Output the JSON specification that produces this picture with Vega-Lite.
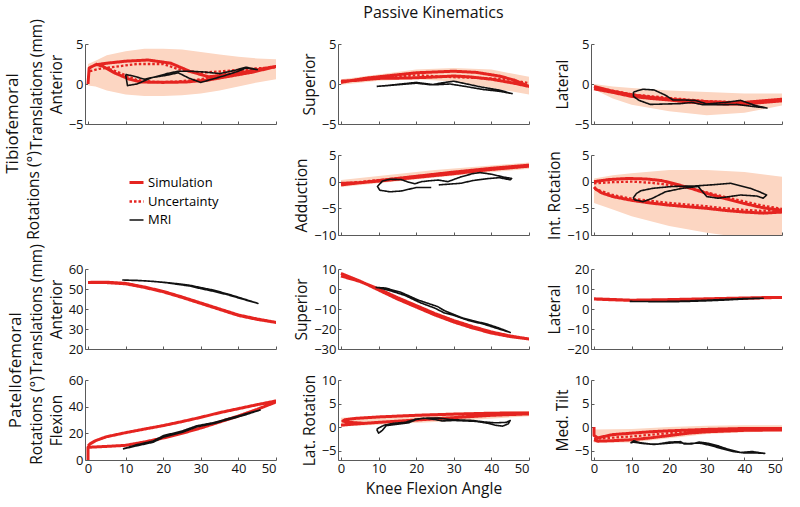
{
"$schema":"https://vega.github.io/schema/vega-lite/v6.json",
"padding":{"left":4,"top":5,"right":3,"bottom":3},
"config":{
 "view":{"stroke":null},
 "font":"Open Sans",
 "axis":{"labelFont":"Open Sans","labelFontSize":13,"titleFont":"Open Sans","titleFontSize":15.5,"titleFontWeight":"normal","titleLineHeight":20,"titlePadding":4,"domainColor":"#5a5a5a","tickColor":"#5a5a5a","labelColor":"#111111","titleColor":"#111111","grid":false,"tickSize":-3,"labelPadding":5,"labelOverlap":false},
 "title":{"font":"Open Sans","fontSize":16,"fontWeight":"normal","color":"#111111"},
 "legend":{"orient":"none","legendX":43,"legendY":130,"symbolType":"stroke","symbolSize":196,"labelFont":"Open Sans","labelFontSize":13,"rowPadding":3,"labelOffset":3}
},
"datasets":{
"band":[
{"p":"ta","x":0,"y":-0.2,"hi":2.5},{"p":"ta","x":2,"y":-0.3,"hi":2.9},{"p":"ta","x":5,"y":-0.8,"hi":3.6},{"p":"ta","x":10,"y":-1.3,"hi":4.1},{"p":"ta","x":15,"y":-1.5,"hi":4.4},{"p":"ta","x":20,"y":-1.5,"hi":4.4},{"p":"ta","x":25,"y":-1.4,"hi":4.3},{"p":"ta","x":30,"y":-1.2,"hi":4.0},{"p":"ta","x":35,"y":-0.8,"hi":3.7},{"p":"ta","x":40,"y":-0.3,"hi":3.4},{"p":"ta","x":45,"y":0.2,"hi":3.2},{"p":"ta","x":50,"y":0.6,"hi":3.1},
{"p":"ts","x":0,"y":-0.1,"hi":0.6},{"p":"ts","x":10,"y":0.4,"hi":1.2},{"p":"ts","x":20,"y":0.6,"hi":1.8},{"p":"ts","x":30,"y":0.3,"hi":2.0},{"p":"ts","x":40,"y":-0.5,"hi":1.8},{"p":"ts","x":50,"y":-1.3,"hi":0.9},
{"p":"tl","x":0,"y":-0.7,"hi":0},{"p":"tl","x":5,"y":-1.8,"hi":-0.3},{"p":"tl","x":10,"y":-2.6,"hi":-0.5},{"p":"tl","x":20,"y":-3.4,"hi":-0.8},{"p":"tl","x":30,"y":-3.9,"hi":-1.0},{"p":"tl","x":40,"y":-3.6,"hi":-1.2},{"p":"tl","x":50,"y":-2.7,"hi":-1.2},
{"p":"tad","x":0,"y":-1.0,"hi":0.3},{"p":"tad","x":25,"y":0.8,"hi":2.2},{"p":"tad","x":50,"y":2.4,"hi":3.6},
{"p":"tir","x":0,"y":-4,"hi":0.6},{"p":"tir","x":5,"y":-5.2,"hi":1.2},{"p":"tir","x":10,"y":-6.5,"hi":1.6},{"p":"tir","x":20,"y":-8.3,"hi":2.2},{"p":"tir","x":30,"y":-9.6,"hi":2.2},{"p":"tir","x":40,"y":-10.5,"hi":1.8},{"p":"tir","x":50,"y":-11,"hi":0.9},
{"p":"plr","x":0,"y":0.1,"hi":2.0},{"p":"plr","x":25,"y":1.1,"hi":3.0},{"p":"plr","x":50,"y":2.3,"hi":3.4},
{"p":"pmt","x":0,"y":-3.3,"hi":-0.5},{"p":"pmt","x":10,"y":-3.3,"hi":-0.4},{"p":"pmt","x":20,"y":-2.4,"hi":0},{"p":"pmt","x":30,"y":-1.5,"hi":0.3},{"p":"pmt","x":40,"y":-1.1,"hi":0.4},{"p":"pmt","x":50,"y":-0.9,"hi":0.4}
],
"lines":[
{"p":"ta","s":"Simulation","x":0,"y":0},{"p":"ta","s":"Simulation","x":0.3,"y":2.0},{"p":"ta","s":"Simulation","x":2,"y":2.4},{"p":"ta","s":"Simulation","x":5,"y":2.6},{"p":"ta","s":"Simulation","x":10,"y":2.85},{"p":"ta","s":"Simulation","x":16,"y":3.0},{"p":"ta","s":"Simulation","x":22,"y":2.6},{"p":"ta","s":"Simulation","x":27,"y":1.6},{"p":"ta","s":"Simulation","x":32,"y":0.9},{"p":"ta","s":"Simulation","x":38,"y":1.2},{"p":"ta","s":"Simulation","x":44,"y":1.7},{"p":"ta","s":"Simulation","x":50,"y":2.2},{"p":"ta","s":"Simulation","x":44,"y":1.5},{"p":"ta","s":"Simulation","x":38,"y":1.0},{"p":"ta","s":"Simulation","x":32,"y":0.5},{"p":"ta","s":"Simulation","x":26,"y":0.25},{"p":"ta","s":"Simulation","x":20,"y":0.2},{"p":"ta","s":"Simulation","x":14,"y":0.25},{"p":"ta","s":"Simulation","x":11,"y":0.6},{"p":"ta","s":"Simulation","x":7,"y":1.4},{"p":"ta","s":"Simulation","x":4,"y":2.2},{"p":"ta","s":"Simulation","x":2,"y":2.5},
{"p":"ta","s":"Uncertainty","x":0.5,"y":1.6},{"p":"ta","s":"Uncertainty","x":3,"y":1.9},{"p":"ta","s":"Uncertainty","x":8,"y":2.2},{"p":"ta","s":"Uncertainty","x":13,"y":2.5},{"p":"ta","s":"Uncertainty","x":20,"y":2.5},{"p":"ta","s":"Uncertainty","x":25,"y":1.7},{"p":"ta","s":"Uncertainty","x":30,"y":1.4},{"p":"ta","s":"Uncertainty","x":36,"y":1.6},{"p":"ta","s":"Uncertainty","x":43,"y":1.9},{"p":"ta","s":"Uncertainty","x":50,"y":2.1},{"p":"ta","s":"Uncertainty","x":43,"y":1.7},{"p":"ta","s":"Uncertainty","x":36,"y":1.2},{"p":"ta","s":"Uncertainty","x":30,"y":0.6},{"p":"ta","s":"Uncertainty","x":24,"y":0.3},{"p":"ta","s":"Uncertainty","x":18,"y":0.25},{"p":"ta","s":"Uncertainty","x":13,"y":0.5},{"p":"ta","s":"Uncertainty","x":9,"y":1.3},{"p":"ta","s":"Uncertainty","x":5,"y":2.0},
{"p":"ta","s":"MRI","x":10,"y":1.2},{"p":"ta","s":"MRI","x":10.5,"y":-0.2},{"p":"ta","s":"MRI","x":13,"y":0},{"p":"ta","s":"MRI","x":17,"y":0.8},{"p":"ta","s":"MRI","x":21,"y":1.1},{"p":"ta","s":"MRI","x":24,"y":1.4},{"p":"ta","s":"MRI","x":27,"y":0.7},{"p":"ta","s":"MRI","x":30,"y":0.2},{"p":"ta","s":"MRI","x":33,"y":0.6},{"p":"ta","s":"MRI","x":36,"y":1.0},{"p":"ta","s":"MRI","x":40,"y":1.6},{"p":"ta","s":"MRI","x":42,"y":2.0},{"p":"ta","s":"MRI","x":45,"y":1.8},{"p":"ta","s":"MRI","x":42,"y":2.1},{"p":"ta","s":"MRI","x":39,"y":1.7},{"p":"ta","s":"MRI","x":35,"y":1.3},{"p":"ta","s":"MRI","x":31,"y":1.5},{"p":"ta","s":"MRI","x":27,"y":1.6},{"p":"ta","s":"MRI","x":24,"y":1.6},{"p":"ta","s":"MRI","x":21,"y":1.3},{"p":"ta","s":"MRI","x":18,"y":0.9},{"p":"ta","s":"MRI","x":15,"y":0.6},{"p":"ta","s":"MRI","x":12,"y":1.0},{"p":"ta","s":"MRI","x":10,"y":1.2},
{"p":"ts","s":"Simulation","x":0,"y":0.2},{"p":"ts","s":"Simulation","x":3,"y":0.45},{"p":"ts","s":"Simulation","x":7,"y":0.75},{"p":"ts","s":"Simulation","x":12,"y":1.0},{"p":"ts","s":"Simulation","x":20,"y":1.4},{"p":"ts","s":"Simulation","x":30,"y":1.6},{"p":"ts","s":"Simulation","x":36,"y":1.45},{"p":"ts","s":"Simulation","x":42,"y":1.0},{"p":"ts","s":"Simulation","x":46,"y":0.5},{"p":"ts","s":"Simulation","x":50,"y":-0.3},{"p":"ts","s":"Simulation","x":46,"y":0.1},{"p":"ts","s":"Simulation","x":40,"y":0.6},{"p":"ts","s":"Simulation","x":34,"y":0.9},{"p":"ts","s":"Simulation","x":30,"y":1.0},{"p":"ts","s":"Simulation","x":24,"y":0.85},{"p":"ts","s":"Simulation","x":18,"y":0.75},{"p":"ts","s":"Simulation","x":10,"y":0.7},{"p":"ts","s":"Simulation","x":4,"y":0.45},{"p":"ts","s":"Simulation","x":0,"y":0.35},
{"p":"ts","s":"Uncertainty","x":0,"y":0.3},{"p":"ts","s":"Uncertainty","x":10,"y":0.75},{"p":"ts","s":"Uncertainty","x":20,"y":1.1},{"p":"ts","s":"Uncertainty","x":30,"y":0.85},{"p":"ts","s":"Uncertainty","x":37,"y":0.75},{"p":"ts","s":"Uncertainty","x":44,"y":0.6},{"p":"ts","s":"Uncertainty","x":50,"y":0.1},
{"p":"ts","s":"MRI","x":9.5,"y":-0.3},{"p":"ts","s":"MRI","x":12,"y":-0.2},{"p":"ts","s":"MRI","x":16,"y":0},{"p":"ts","s":"MRI","x":20,"y":0.2},{"p":"ts","s":"MRI","x":25,"y":-0.1},{"p":"ts","s":"MRI","x":29,"y":0},{"p":"ts","s":"MRI","x":33,"y":-0.3},{"p":"ts","s":"MRI","x":38,"y":-0.7},{"p":"ts","s":"MRI","x":42,"y":-0.9},{"p":"ts","s":"MRI","x":45.5,"y":-1.2},{"p":"ts","s":"MRI","x":42,"y":-0.75},{"p":"ts","s":"MRI","x":37,"y":-0.35},{"p":"ts","s":"MRI","x":33,"y":0.05},{"p":"ts","s":"MRI","x":30,"y":0.35},{"p":"ts","s":"MRI","x":27,"y":0.15},{"p":"ts","s":"MRI","x":24,"y":-0.1},{"p":"ts","s":"MRI","x":20,"y":0.1},{"p":"ts","s":"MRI","x":15,"y":-0.1},{"p":"ts","s":"MRI","x":11,"y":-0.25},{"p":"ts","s":"MRI","x":9.5,"y":-0.3},
{"p":"tl","s":"Simulation","x":0,"y":-0.3},{"p":"tl","s":"Simulation","x":5,"y":-0.9},{"p":"tl","s":"Simulation","x":10,"y":-1.35},{"p":"tl","s":"Simulation","x":15,"y":-1.65},{"p":"tl","s":"Simulation","x":20,"y":-1.9},{"p":"tl","s":"Simulation","x":25,"y":-2.05},{"p":"tl","s":"Simulation","x":30,"y":-2.2},{"p":"tl","s":"Simulation","x":35,"y":-2.3},{"p":"tl","s":"Simulation","x":40,"y":-2.3},{"p":"tl","s":"Simulation","x":45,"y":-2.1},{"p":"tl","s":"Simulation","x":50,"y":-1.9},{"p":"tl","s":"Simulation","x":50,"y":-2.1},{"p":"tl","s":"Simulation","x":45,"y":-2.3},{"p":"tl","s":"Simulation","x":40,"y":-2.5},{"p":"tl","s":"Simulation","x":35,"y":-2.5},{"p":"tl","s":"Simulation","x":30,"y":-2.4},{"p":"tl","s":"Simulation","x":25,"y":-2.25},{"p":"tl","s":"Simulation","x":20,"y":-2.0},{"p":"tl","s":"Simulation","x":15,"y":-1.8},{"p":"tl","s":"Simulation","x":10,"y":-1.55},{"p":"tl","s":"Simulation","x":5,"y":-1.05},{"p":"tl","s":"Simulation","x":0,"y":-0.6},
{"p":"tl","s":"Uncertainty","x":0,"y":-0.4},{"p":"tl","s":"Uncertainty","x":10,"y":-1.3},{"p":"tl","s":"Uncertainty","x":20,"y":-1.75},{"p":"tl","s":"Uncertainty","x":30,"y":-2.15},{"p":"tl","s":"Uncertainty","x":40,"y":-2.3},{"p":"tl","s":"Uncertainty","x":50,"y":-2.0},
{"p":"tl","s":"MRI","x":10.5,"y":-1.0},{"p":"tl","s":"MRI","x":13,"y":-0.65},{"p":"tl","s":"MRI","x":16,"y":-0.75},{"p":"tl","s":"MRI","x":19,"y":-1.4},{"p":"tl","s":"MRI","x":21,"y":-2.0},{"p":"tl","s":"MRI","x":24,"y":-2.0},{"p":"tl","s":"MRI","x":27,"y":-2.05},{"p":"tl","s":"MRI","x":30,"y":-2.5},{"p":"tl","s":"MRI","x":35,"y":-2.3},{"p":"tl","s":"MRI","x":39,"y":-2.05},{"p":"tl","s":"MRI","x":43,"y":-2.7},{"p":"tl","s":"MRI","x":46,"y":-3.0},{"p":"tl","s":"MRI","x":43,"y":-2.85},{"p":"tl","s":"MRI","x":38,"y":-2.55},{"p":"tl","s":"MRI","x":33,"y":-2.6},{"p":"tl","s":"MRI","x":29,"y":-2.6},{"p":"tl","s":"MRI","x":26,"y":-2.3},{"p":"tl","s":"MRI","x":23,"y":-2.45},{"p":"tl","s":"MRI","x":19,"y":-2.5},{"p":"tl","s":"MRI","x":15,"y":-2.55},{"p":"tl","s":"MRI","x":12,"y":-2.05},{"p":"tl","s":"MRI","x":10.5,"y":-1.55},{"p":"tl","s":"MRI","x":10.5,"y":-1.0},
{"p":"tad","s":"Simulation","x":0,"y":-0.6},{"p":"tad","s":"Simulation","x":5,"y":-0.2},{"p":"tad","s":"Simulation","x":10,"y":0.2},{"p":"tad","s":"Simulation","x":20,"y":1.0},{"p":"tad","s":"Simulation","x":30,"y":1.8},{"p":"tad","s":"Simulation","x":40,"y":2.5},{"p":"tad","s":"Simulation","x":50,"y":3.1},{"p":"tad","s":"Simulation","x":50,"y":2.9},{"p":"tad","s":"Simulation","x":40,"y":2.3},{"p":"tad","s":"Simulation","x":30,"y":1.5},{"p":"tad","s":"Simulation","x":20,"y":0.8},{"p":"tad","s":"Simulation","x":10,"y":0.1},{"p":"tad","s":"Simulation","x":5,"y":-0.2},{"p":"tad","s":"Simulation","x":0,"y":-0.3},
{"p":"tad","s":"Uncertainty","x":0,"y":-0.4},{"p":"tad","s":"Uncertainty","x":10,"y":0.3},{"p":"tad","s":"Uncertainty","x":20,"y":1.0},{"p":"tad","s":"Uncertainty","x":30,"y":1.7},{"p":"tad","s":"Uncertainty","x":40,"y":2.3},{"p":"tad","s":"Uncertainty","x":50,"y":2.9},
{"p":"tad","s":"MRI","x":24,"y":-1.1},{"p":"tad","s":"MRI","x":20,"y":-1.1},{"p":"tad","s":"MRI","x":16,"y":-1.75},{"p":"tad","s":"MRI","x":13,"y":-1.9},{"p":"tad","s":"MRI","x":10.3,"y":-1.6},{"p":"tad","s":"MRI","x":9.7,"y":-0.9},{"p":"tad","s":"MRI","x":11,"y":0.1},{"p":"tad","s":"MRI","x":13,"y":0.45},{"p":"tad","s":"MRI","x":16,"y":0.4},{"p":"tad","s":"MRI","x":18,"y":-0.1},{"p":"tad","s":"MRI","x":19.6,"y":-0.4},{"p":"tad","s":"MRI","x":21.4,"y":0},{"p":"tad","s":"MRI","x":24,"y":0.2},{"p":"tad","s":"MRI","x":26,"y":0.3},{"p":"tad","s":"MRI","x":28.4,"y":0},{"p":"tad","s":"MRI","x":31.9,"y":0.9},{"p":"tad","s":"MRI","x":35,"y":1.5},{"p":"tad","s":"MRI","x":37,"y":1.7},{"p":"tad","s":"MRI","x":40,"y":1.4},{"p":"tad","s":"MRI","x":43,"y":0.9},{"p":"tad","s":"MRI","x":45.4,"y":0.6},{"p":"tad","s":"MRI","x":45,"y":0.35},{"p":"tad","s":"MRI","x":42,"y":0.75},{"p":"tad","s":"MRI","x":38.8,"y":0.55},{"p":"tad","s":"MRI","x":35,"y":0.2},{"p":"tad","s":"MRI","x":31.9,"y":-0.3},{"p":"tad","s":"MRI","x":28,"y":-0.5},{"p":"tad","s":"MRI","x":26,"y":-0.6},
{"p":"tir","s":"Simulation","x":0,"y":0},{"p":"tir","s":"Simulation","x":4,"y":0.4},{"p":"tir","s":"Simulation","x":9,"y":0.6},{"p":"tir","s":"Simulation","x":14,"y":0.5},{"p":"tir","s":"Simulation","x":18,"y":0.2},{"p":"tir","s":"Simulation","x":22,"y":-0.5},{"p":"tir","s":"Simulation","x":26,"y":-1.3},{"p":"tir","s":"Simulation","x":30,"y":-2.2},{"p":"tir","s":"Simulation","x":35,"y":-3.2},{"p":"tir","s":"Simulation","x":40,"y":-4.1},{"p":"tir","s":"Simulation","x":45,"y":-4.9},{"p":"tir","s":"Simulation","x":50,"y":-5.4},{"p":"tir","s":"Simulation","x":50,"y":-5.7},{"p":"tir","s":"Simulation","x":45,"y":-5.9},{"p":"tir","s":"Simulation","x":40,"y":-5.7},{"p":"tir","s":"Simulation","x":35,"y":-5.4},{"p":"tir","s":"Simulation","x":30,"y":-5.0},{"p":"tir","s":"Simulation","x":25,"y":-4.7},{"p":"tir","s":"Simulation","x":20,"y":-4.4},{"p":"tir","s":"Simulation","x":15,"y":-4.0},{"p":"tir","s":"Simulation","x":10,"y":-3.5},{"p":"tir","s":"Simulation","x":5,"y":-2.8},{"p":"tir","s":"Simulation","x":2,"y":-2.1},{"p":"tir","s":"Simulation","x":0.5,"y":-1.4},{"p":"tir","s":"Simulation","x":0,"y":-1.0},
{"p":"tir","s":"Uncertainty","x":0,"y":-0.3},{"p":"tir","s":"Uncertainty","x":5,"y":-0.1},{"p":"tir","s":"Uncertainty","x":10,"y":0},{"p":"tir","s":"Uncertainty","x":15,"y":-0.2},{"p":"tir","s":"Uncertainty","x":20,"y":-0.6},{"p":"tir","s":"Uncertainty","x":25,"y":-1.1},{"p":"tir","s":"Uncertainty","x":30,"y":-2.0},{"p":"tir","s":"Uncertainty","x":35,"y":-2.9},{"p":"tir","s":"Uncertainty","x":40,"y":-3.7},{"p":"tir","s":"Uncertainty","x":45,"y":-4.5},{"p":"tir","s":"Uncertainty","x":50,"y":-5.1},{"p":"tir","s":"Uncertainty","x":45,"y":-5.5},{"p":"tir","s":"Uncertainty","x":40,"y":-5.3},{"p":"tir","s":"Uncertainty","x":35,"y":-5.0},{"p":"tir","s":"Uncertainty","x":30,"y":-4.6},{"p":"tir","s":"Uncertainty","x":25,"y":-4.3},{"p":"tir","s":"Uncertainty","x":20,"y":-4.0},{"p":"tir","s":"Uncertainty","x":15,"y":-3.6},{"p":"tir","s":"Uncertainty","x":10,"y":-3.2},{"p":"tir","s":"Uncertainty","x":5,"y":-2.5},{"p":"tir","s":"Uncertainty","x":0,"y":-1.3},
{"p":"tir","s":"MRI","x":10.4,"y":-3.1},{"p":"tir","s":"MRI","x":11.3,"y":-2.2},{"p":"tir","s":"MRI","x":12.5,"y":-1.7},{"p":"tir","s":"MRI","x":15.6,"y":-1.25},{"p":"tir","s":"MRI","x":20.8,"y":-0.9},{"p":"tir","s":"MRI","x":26.9,"y":-0.8},{"p":"tir","s":"MRI","x":31.2,"y":-0.6},{"p":"tir","s":"MRI","x":36.4,"y":-0.3},{"p":"tir","s":"MRI","x":41.6,"y":-1.25},{"p":"tir","s":"MRI","x":44,"y":-1.9},{"p":"tir","s":"MRI","x":45.9,"y":-2.5},{"p":"tir","s":"MRI","x":45,"y":-3.1},{"p":"tir","s":"MRI","x":43.3,"y":-2.7},{"p":"tir","s":"MRI","x":39,"y":-2.5},{"p":"tir","s":"MRI","x":33,"y":-3.1},{"p":"tir","s":"MRI","x":30,"y":-2.8},{"p":"tir","s":"MRI","x":27.7,"y":-0.9},{"p":"tir","s":"MRI","x":23.4,"y":-1.25},{"p":"tir","s":"MRI","x":19,"y":-1.9},{"p":"tir","s":"MRI","x":15.6,"y":-3.1},{"p":"tir","s":"MRI","x":13,"y":-3.75},{"p":"tir","s":"MRI","x":10.8,"y":-3.4},{"p":"tir","s":"MRI","x":10.4,"y":-3.1},
{"p":"pa","s":"Simulation","x":0,"y":53.3},{"p":"pa","s":"Simulation","x":5,"y":53.4},{"p":"pa","s":"Simulation","x":10,"y":52.8},{"p":"pa","s":"Simulation","x":15,"y":51},{"p":"pa","s":"Simulation","x":20,"y":48.8},{"p":"pa","s":"Simulation","x":25,"y":46},{"p":"pa","s":"Simulation","x":30,"y":43},{"p":"pa","s":"Simulation","x":35,"y":40},{"p":"pa","s":"Simulation","x":40,"y":37},{"p":"pa","s":"Simulation","x":45,"y":35},{"p":"pa","s":"Simulation","x":50,"y":33.3},{"p":"pa","s":"Simulation","x":45,"y":34.8},{"p":"pa","s":"Simulation","x":40,"y":36.8},{"p":"pa","s":"Simulation","x":35,"y":39.8},{"p":"pa","s":"Simulation","x":30,"y":42.8},{"p":"pa","s":"Simulation","x":25,"y":45.8},{"p":"pa","s":"Simulation","x":20,"y":48.6},{"p":"pa","s":"Simulation","x":15,"y":50.8},{"p":"pa","s":"Simulation","x":10,"y":52.6},{"p":"pa","s":"Simulation","x":5,"y":53.2},{"p":"pa","s":"Simulation","x":0,"y":53.2},
{"p":"pa","s":"MRI","x":9.1,"y":54.5},{"p":"pa","s":"MRI","x":13,"y":54.3},{"p":"pa","s":"MRI","x":17.4,"y":53.8},{"p":"pa","s":"MRI","x":21,"y":53.1},{"p":"pa","s":"MRI","x":24,"y":52.3},{"p":"pa","s":"MRI","x":27,"y":51.5},{"p":"pa","s":"MRI","x":30,"y":50.2},{"p":"pa","s":"MRI","x":33,"y":49},{"p":"pa","s":"MRI","x":37,"y":47.2},{"p":"pa","s":"MRI","x":41,"y":45},{"p":"pa","s":"MRI","x":45.2,"y":42.8},{"p":"pa","s":"MRI","x":41,"y":45.3},{"p":"pa","s":"MRI","x":37,"y":47.6},{"p":"pa","s":"MRI","x":33,"y":49.6},{"p":"pa","s":"MRI","x":30,"y":50.7},{"p":"pa","s":"MRI","x":27,"y":51.9},{"p":"pa","s":"MRI","x":24,"y":52.6},{"p":"pa","s":"MRI","x":20,"y":53.4},{"p":"pa","s":"MRI","x":15,"y":54.1},{"p":"pa","s":"MRI","x":9.1,"y":54.5},
{"p":"ps","s":"Simulation","x":0,"y":7.8},{"p":"ps","s":"Simulation","x":5,"y":4},{"p":"ps","s":"Simulation","x":10,"y":-0.5},{"p":"ps","s":"Simulation","x":15,"y":-5},{"p":"ps","s":"Simulation","x":20,"y":-9},{"p":"ps","s":"Simulation","x":25,"y":-13},{"p":"ps","s":"Simulation","x":30,"y":-16.5},{"p":"ps","s":"Simulation","x":35,"y":-19.5},{"p":"ps","s":"Simulation","x":40,"y":-22},{"p":"ps","s":"Simulation","x":45,"y":-23.8},{"p":"ps","s":"Simulation","x":50,"y":-25},{"p":"ps","s":"Simulation","x":45,"y":-23.5},{"p":"ps","s":"Simulation","x":40,"y":-21.5},{"p":"ps","s":"Simulation","x":35,"y":-18.8},{"p":"ps","s":"Simulation","x":30,"y":-15.8},{"p":"ps","s":"Simulation","x":25,"y":-12.3},{"p":"ps","s":"Simulation","x":20,"y":-8.3},{"p":"ps","s":"Simulation","x":15,"y":-4.3},{"p":"ps","s":"Simulation","x":10,"y":0},{"p":"ps","s":"Simulation","x":5,"y":3.8},{"p":"ps","s":"Simulation","x":0,"y":6.5},
{"p":"ps","s":"MRI","x":9.2,"y":0.8},{"p":"ps","s":"MRI","x":11.8,"y":0.5},{"p":"ps","s":"MRI","x":16,"y":-1.7},{"p":"ps","s":"MRI","x":20.5,"y":-5.5},{"p":"ps","s":"MRI","x":25.7,"y":-8.8},{"p":"ps","s":"MRI","x":27.5,"y":-10.8},{"p":"ps","s":"MRI","x":31.9,"y":-14.2},{"p":"ps","s":"MRI","x":35,"y":-15.8},{"p":"ps","s":"MRI","x":38.8,"y":-17.5},{"p":"ps","s":"MRI","x":42,"y":-19.5},{"p":"ps","s":"MRI","x":45,"y":-21.7},{"p":"ps","s":"MRI","x":42,"y":-20},{"p":"ps","s":"MRI","x":38,"y":-17.6},{"p":"ps","s":"MRI","x":34,"y":-15.8},{"p":"ps","s":"MRI","x":30,"y":-13.2},{"p":"ps","s":"MRI","x":27.5,"y":-12.0},{"p":"ps","s":"MRI","x":25,"y":-9.6},{"p":"ps","s":"MRI","x":21,"y":-6.8},{"p":"ps","s":"MRI","x":17,"y":-3.2},{"p":"ps","s":"MRI","x":13,"y":-0.8},{"p":"ps","s":"MRI","x":10,"y":0.6},{"p":"ps","s":"MRI","x":9.2,"y":0.8},
{"p":"pl","s":"Simulation","x":0,"y":5},{"p":"pl","s":"Simulation","x":5,"y":4.6},{"p":"pl","s":"Simulation","x":10,"y":4.3},{"p":"pl","s":"Simulation","x":15,"y":4.4},{"p":"pl","s":"Simulation","x":20,"y":4.5},{"p":"pl","s":"Simulation","x":25,"y":4.7},{"p":"pl","s":"Simulation","x":30,"y":5},{"p":"pl","s":"Simulation","x":35,"y":5.2},{"p":"pl","s":"Simulation","x":40,"y":5.4},{"p":"pl","s":"Simulation","x":45,"y":5.6},{"p":"pl","s":"Simulation","x":50,"y":5.8},{"p":"pl","s":"Simulation","x":45,"y":5.7},{"p":"pl","s":"Simulation","x":40,"y":5.5},{"p":"pl","s":"Simulation","x":30,"y":5.1},{"p":"pl","s":"Simulation","x":20,"y":4.7},{"p":"pl","s":"Simulation","x":10,"y":4.4},{"p":"pl","s":"Simulation","x":0,"y":5.1},
{"p":"pl","s":"MRI","x":9.5,"y":3.8},{"p":"pl","s":"MRI","x":15,"y":3.7},{"p":"pl","s":"MRI","x":20,"y":3.8},{"p":"pl","s":"MRI","x":25,"y":4.0},{"p":"pl","s":"MRI","x":30,"y":4.4},{"p":"pl","s":"MRI","x":35,"y":4.8},{"p":"pl","s":"MRI","x":40,"y":5.2},{"p":"pl","s":"MRI","x":45,"y":5.4},{"p":"pl","s":"MRI","x":40,"y":5.0},{"p":"pl","s":"MRI","x":35,"y":4.5},{"p":"pl","s":"MRI","x":30,"y":4.1},{"p":"pl","s":"MRI","x":25,"y":3.8},{"p":"pl","s":"MRI","x":20,"y":3.6},{"p":"pl","s":"MRI","x":15,"y":3.7},{"p":"pl","s":"MRI","x":9.5,"y":3.8},
{"p":"pf","s":"Simulation","x":0,"y":0},{"p":"pf","s":"Simulation","x":0,"y":9.5},{"p":"pf","s":"Simulation","x":5,"y":10.2},{"p":"pf","s":"Simulation","x":10,"y":11},{"p":"pf","s":"Simulation","x":15,"y":13.5},{"p":"pf","s":"Simulation","x":20,"y":16.5},{"p":"pf","s":"Simulation","x":25,"y":20},{"p":"pf","s":"Simulation","x":30,"y":24},{"p":"pf","s":"Simulation","x":35,"y":28.5},{"p":"pf","s":"Simulation","x":40,"y":33},{"p":"pf","s":"Simulation","x":45,"y":38},{"p":"pf","s":"Simulation","x":50,"y":43.5},{"p":"pf","s":"Simulation","x":50,"y":44.3},{"p":"pf","s":"Simulation","x":45,"y":41.5},{"p":"pf","s":"Simulation","x":40,"y":38.5},{"p":"pf","s":"Simulation","x":35,"y":35.5},{"p":"pf","s":"Simulation","x":30,"y":32},{"p":"pf","s":"Simulation","x":25,"y":28.8},{"p":"pf","s":"Simulation","x":20,"y":25.8},{"p":"pf","s":"Simulation","x":15,"y":23.2},{"p":"pf","s":"Simulation","x":10,"y":20.5},{"p":"pf","s":"Simulation","x":5,"y":17.5},{"p":"pf","s":"Simulation","x":2,"y":14.5},{"p":"pf","s":"Simulation","x":0.5,"y":12},{"p":"pf","s":"Simulation","x":0,"y":10.5},
{"p":"pf","s":"MRI","x":9.3,"y":8.3},{"p":"pf","s":"MRI","x":12.9,"y":10.6},{"p":"pf","s":"MRI","x":17.3,"y":13.3},{"p":"pf","s":"MRI","x":20,"y":17},{"p":"pf","s":"MRI","x":25.3,"y":21},{"p":"pf","s":"MRI","x":28.9,"y":24.8},{"p":"pf","s":"MRI","x":33.3,"y":27.3},{"p":"pf","s":"MRI","x":37.8,"y":30.6},{"p":"pf","s":"MRI","x":42.2,"y":34.2},{"p":"pf","s":"MRI","x":45.8,"y":37.5},{"p":"pf","s":"MRI","x":42.2,"y":34.8},{"p":"pf","s":"MRI","x":37.8,"y":31.4},{"p":"pf","s":"MRI","x":33.3,"y":28},{"p":"pf","s":"MRI","x":28.9,"y":25.6},{"p":"pf","s":"MRI","x":25.3,"y":22},{"p":"pf","s":"MRI","x":20,"y":18.2},{"p":"pf","s":"MRI","x":17.3,"y":14.2},{"p":"pf","s":"MRI","x":12.9,"y":11.4},{"p":"pf","s":"MRI","x":9.3,"y":8.3},
{"p":"plr","s":"Simulation","x":0,"y":0.4},{"p":"plr","s":"Simulation","x":3,"y":0.6},{"p":"plr","s":"Simulation","x":10,"y":1.0},{"p":"plr","s":"Simulation","x":20,"y":1.5},{"p":"plr","s":"Simulation","x":30,"y":2.0},{"p":"plr","s":"Simulation","x":40,"y":2.5},{"p":"plr","s":"Simulation","x":50,"y":2.8},{"p":"plr","s":"Simulation","x":50,"y":3.0},{"p":"plr","s":"Simulation","x":40,"y":2.95},{"p":"plr","s":"Simulation","x":30,"y":2.75},{"p":"plr","s":"Simulation","x":20,"y":2.5},{"p":"plr","s":"Simulation","x":10,"y":2.15},{"p":"plr","s":"Simulation","x":4,"y":1.85},{"p":"plr","s":"Simulation","x":1,"y":1.55},{"p":"plr","s":"Simulation","x":0.5,"y":1.3},{"p":"plr","s":"Simulation","x":2,"y":1.0},{"p":"plr","s":"Simulation","x":6,"y":0.8},
{"p":"plr","s":"MRI","x":9.5,"y":-0.5},{"p":"plr","s":"MRI","x":10,"y":-1.3},{"p":"plr","s":"MRI","x":11,"y":-0.7},{"p":"plr","s":"MRI","x":12,"y":0.3},{"p":"plr","s":"MRI","x":15,"y":0.6},{"p":"plr","s":"MRI","x":18,"y":0.9},{"p":"plr","s":"MRI","x":20,"y":1.6},{"p":"plr","s":"MRI","x":22,"y":1.9},{"p":"plr","s":"MRI","x":25,"y":1.6},{"p":"plr","s":"MRI","x":27,"y":1.3},{"p":"plr","s":"MRI","x":30,"y":1.4},{"p":"plr","s":"MRI","x":33,"y":1.3},{"p":"plr","s":"MRI","x":36,"y":1.2},{"p":"plr","s":"MRI","x":39,"y":0.8},{"p":"plr","s":"MRI","x":41,"y":0.4},{"p":"plr","s":"MRI","x":43,"y":0.2},{"p":"plr","s":"MRI","x":44.5,"y":0.7},{"p":"plr","s":"MRI","x":45,"y":1.4},{"p":"plr","s":"MRI","x":44,"y":1.0},{"p":"plr","s":"MRI","x":41,"y":0.9},{"p":"plr","s":"MRI","x":38,"y":1.1},{"p":"plr","s":"MRI","x":35,"y":1.4},{"p":"plr","s":"MRI","x":32,"y":1.5},{"p":"plr","s":"MRI","x":29,"y":1.6},{"p":"plr","s":"MRI","x":26,"y":1.9},{"p":"plr","s":"MRI","x":23,"y":1.9},{"p":"plr","s":"MRI","x":20,"y":1.7},{"p":"plr","s":"MRI","x":17,"y":1.0},{"p":"plr","s":"MRI","x":14,"y":0.8},{"p":"plr","s":"MRI","x":11.5,"y":0.4},{"p":"plr","s":"MRI","x":10,"y":-0.2},{"p":"plr","s":"MRI","x":9.5,"y":-0.5},
{"p":"pmt","s":"Simulation","x":0,"y":0},{"p":"pmt","s":"Simulation","x":0,"y":-1.8},{"p":"pmt","s":"Simulation","x":1,"y":-2.3},{"p":"pmt","s":"Simulation","x":5,"y":-1.6},{"p":"pmt","s":"Simulation","x":10,"y":-1.3},{"p":"pmt","s":"Simulation","x":15,"y":-1.0},{"p":"pmt","s":"Simulation","x":20,"y":-0.8},{"p":"pmt","s":"Simulation","x":30,"y":-0.5},{"p":"pmt","s":"Simulation","x":40,"y":-0.3},{"p":"pmt","s":"Simulation","x":50,"y":-0.3},{"p":"pmt","s":"Simulation","x":50,"y":-0.6},{"p":"pmt","s":"Simulation","x":40,"y":-0.7},{"p":"pmt","s":"Simulation","x":30,"y":-1.0},{"p":"pmt","s":"Simulation","x":25,"y":-1.3},{"p":"pmt","s":"Simulation","x":20,"y":-1.8},{"p":"pmt","s":"Simulation","x":15,"y":-2.3},{"p":"pmt","s":"Simulation","x":10,"y":-2.7},{"p":"pmt","s":"Simulation","x":5,"y":-2.9},{"p":"pmt","s":"Simulation","x":1,"y":-3.0},{"p":"pmt","s":"Simulation","x":0,"y":-2.7},
{"p":"pmt","s":"Uncertainty","x":0,"y":-2.5},{"p":"pmt","s":"Uncertainty","x":10,"y":-2.0},{"p":"pmt","s":"Uncertainty","x":20,"y":-1.3},{"p":"pmt","s":"Uncertainty","x":30,"y":-0.8},{"p":"pmt","s":"Uncertainty","x":40,"y":-0.5},{"p":"pmt","s":"Uncertainty","x":50,"y":-0.4},
{"p":"pmt","s":"MRI","x":9.7,"y":-3.4},{"p":"pmt","s":"MRI","x":10.6,"y":-2.9},{"p":"pmt","s":"MRI","x":12,"y":-3.3},{"p":"pmt","s":"MRI","x":15,"y":-3.6},{"p":"pmt","s":"MRI","x":17,"y":-3.6},{"p":"pmt","s":"MRI","x":20,"y":-3.2},{"p":"pmt","s":"MRI","x":23,"y":-3.1},{"p":"pmt","s":"MRI","x":24,"y":-3.6},{"p":"pmt","s":"MRI","x":26,"y":-3.6},{"p":"pmt","s":"MRI","x":28,"y":-3.2},{"p":"pmt","s":"MRI","x":30,"y":-3.4},{"p":"pmt","s":"MRI","x":33,"y":-4.0},{"p":"pmt","s":"MRI","x":36,"y":-4.8},{"p":"pmt","s":"MRI","x":39,"y":-5.4},{"p":"pmt","s":"MRI","x":42,"y":-5.2},{"p":"pmt","s":"MRI","x":45.4,"y":-5.6},{"p":"pmt","s":"MRI","x":43,"y":-5.5},{"p":"pmt","s":"MRI","x":40,"y":-5.5},{"p":"pmt","s":"MRI","x":37,"y":-5.2},{"p":"pmt","s":"MRI","x":34,"y":-4.6},{"p":"pmt","s":"MRI","x":31,"y":-3.9},{"p":"pmt","s":"MRI","x":28,"y":-3.4},{"p":"pmt","s":"MRI","x":25,"y":-3.5},{"p":"pmt","s":"MRI","x":22,"y":-3.3},{"p":"pmt","s":"MRI","x":19,"y":-3.5},{"p":"pmt","s":"MRI","x":16,"y":-3.7},{"p":"pmt","s":"MRI","x":13,"y":-3.5},{"p":"pmt","s":"MRI","x":10.5,"y":-3.2},{"p":"pmt","s":"MRI","x":9.7,"y":-3.4}
]
},
"vconcat":[
{"title":{"text":"Tibiofemoral","orient":"left","align":"center","anchor":"middle","fontSize":17,"offset":4},
 "columns":3,"spacing":{"row":31,"column":62},"bounds":"flush",
 "concat":[
  {"width":191,"height":80,
   "encoding":{"x":{"field":"x","type":"quantitative","scale":{"domain":[-0.8,50]},"axis":{"labels":false,"title":null,"values":[0,10,20,30,40,50]}},
     "y":{"field":"y","type":"quantitative","scale":{"domain":[-5,5]},"axis":{"values":[-5,0,5],"title":["Translations (mm)","Anterior"]}}},
   "layer":[
   {"data":{"name":"band"},"transform":[{"filter":"datum.p=='ta'"}],"mark":{"type":"area","color":"#fcd6c2","clip":true},"encoding":{"y2":{"field":"hi"}}},
   {"data":{"name":"lines"},"transform":[{"filter":"datum.p=='ta'"}],"mark":{"type":"line","clip":true,"strokeJoin":"round"},
    "encoding":{"order":{"value":null},
     "color":{"field":"s","type":"nominal","title":null,"scale":{"domain":["Simulation","Uncertainty","MRI"],"range":["#e52420","#e52420","#111111"]}},
     "strokeDash":{"field":"s","type":"nominal","title":null,"scale":{"domain":["Simulation","Uncertainty","MRI"],"range":[[1,0],[2.5,2],[1,0]]}},
     "strokeWidth":{"field":"s","type":"nominal","title":null,"scale":{"domain":["Simulation","Uncertainty","MRI"],"range":[3,1.6,1.2]}}}}
  ]},
  {"width":191,"height":80,"title":{"text":"Passive Kinematics","offset":17},
   "encoding":{"x":{"field":"x","type":"quantitative","scale":{"domain":[-0.8,50]},"axis":{"labels":false,"title":null,"values":[0,10,20,30,40,50]}},
     "y":{"field":"y","type":"quantitative","scale":{"domain":[-5,5]},"axis":{"values":[-5,0,5],"title":"Superior"}}},
   "layer":[
   {"data":{"name":"band"},"transform":[{"filter":"datum.p=='ts'"}],"mark":{"type":"area","color":"#fcd6c2","clip":true},"encoding":{"y2":{"field":"hi"}}},
   {"data":{"name":"lines"},"transform":[{"filter":"datum.p=='ts'"}],"mark":{"type":"line","clip":true,"strokeJoin":"round"},
    "encoding":{"order":{"value":null},
     "color":{"field":"s","type":"nominal","title":null,"scale":{"domain":["Simulation","Uncertainty","MRI"],"range":["#e52420","#e52420","#111111"]}},
     "strokeDash":{"field":"s","type":"nominal","title":null,"scale":{"domain":["Simulation","Uncertainty","MRI"],"range":[[1,0],[2.5,2],[1,0]]}},
     "strokeWidth":{"field":"s","type":"nominal","title":null,"scale":{"domain":["Simulation","Uncertainty","MRI"],"range":[3,1.6,1.2]}}}}
  ]},
  {"width":191,"height":80,
   "encoding":{"x":{"field":"x","type":"quantitative","scale":{"domain":[-0.8,50]},"axis":{"labels":false,"title":null,"values":[0,10,20,30,40,50]}},
     "y":{"field":"y","type":"quantitative","scale":{"domain":[-5,5]},"axis":{"values":[-5,0,5],"title":"Lateral"}}},
   "layer":[
   {"data":{"name":"band"},"transform":[{"filter":"datum.p=='tl'"}],"mark":{"type":"area","color":"#fcd6c2","clip":true},"encoding":{"y2":{"field":"hi"}}},
   {"data":{"name":"lines"},"transform":[{"filter":"datum.p=='tl'"}],"mark":{"type":"line","clip":true,"strokeJoin":"round"},
    "encoding":{"order":{"value":null},
     "color":{"field":"s","type":"nominal","title":null,"scale":{"domain":["Simulation","Uncertainty","MRI"],"range":["#e52420","#e52420","#111111"]}},
     "strokeDash":{"field":"s","type":"nominal","title":null,"scale":{"domain":["Simulation","Uncertainty","MRI"],"range":[[1,0],[2.5,2],[1,0]]}},
     "strokeWidth":{"field":"s","type":"nominal","title":null,"scale":{"domain":["Simulation","Uncertainty","MRI"],"range":[3,1.6,1.2]}}}}
  ]},
  {"width":191,"height":80,"data":{"values":[{"v":0}]},"mark":{"type":"point","opacity":0},
   "encoding":{"y":{"field":"v","type":"quantitative","scale":{"domain":[-10,5]},"axis":{"title":["Rotations (°)",""],"values":[-5],"labelOpacity":0,"ticks":false,"domain":false}}}},
  {"width":191,"height":80,
   "encoding":{"x":{"field":"x","type":"quantitative","scale":{"domain":[-0.8,50]},"axis":{"labels":false,"title":null,"values":[0,10,20,30,40,50]}},
     "y":{"field":"y","type":"quantitative","scale":{"domain":[-10,5]},"axis":{"values":[-10,-5,0,5],"title":"Adduction"}}},
   "layer":[
   {"data":{"name":"band"},"transform":[{"filter":"datum.p=='tad'"}],"mark":{"type":"area","color":"#fcd6c2","clip":true},"encoding":{"y2":{"field":"hi"}}},
   {"data":{"name":"lines"},"transform":[{"filter":"datum.p=='tad'"}],"mark":{"type":"line","clip":true,"strokeJoin":"round"},
    "encoding":{"order":{"value":null},
     "color":{"field":"s","type":"nominal","title":null,"scale":{"domain":["Simulation","Uncertainty","MRI"],"range":["#e52420","#e52420","#111111"]}},
     "strokeDash":{"field":"s","type":"nominal","title":null,"scale":{"domain":["Simulation","Uncertainty","MRI"],"range":[[1,0],[2.5,2],[1,0]]}},
     "strokeWidth":{"field":"s","type":"nominal","title":null,"scale":{"domain":["Simulation","Uncertainty","MRI"],"range":[3,1.6,1.2]}}}}
  ]},
  {"width":191,"height":80,
   "encoding":{"x":{"field":"x","type":"quantitative","scale":{"domain":[-0.8,50]},"axis":{"labels":false,"title":null,"values":[0,10,20,30,40,50]}},
     "y":{"field":"y","type":"quantitative","scale":{"domain":[-10,5]},"axis":{"values":[-10,-5,0,5],"title":"Int. Rotation"}}},
   "layer":[
   {"data":{"name":"band"},"transform":[{"filter":"datum.p=='tir'"}],"mark":{"type":"area","color":"#fcd6c2","clip":true},"encoding":{"y2":{"field":"hi"}}},
   {"data":{"name":"lines"},"transform":[{"filter":"datum.p=='tir'"}],"mark":{"type":"line","clip":true,"strokeJoin":"round"},
    "encoding":{"order":{"value":null},
     "color":{"field":"s","type":"nominal","title":null,"scale":{"domain":["Simulation","Uncertainty","MRI"],"range":["#e52420","#e52420","#111111"]}},
     "strokeDash":{"field":"s","type":"nominal","title":null,"scale":{"domain":["Simulation","Uncertainty","MRI"],"range":[[1,0],[2.5,2],[1,0]]}},
     "strokeWidth":{"field":"s","type":"nominal","title":null,"scale":{"domain":["Simulation","Uncertainty","MRI"],"range":[3,1.6,1.2]}}}}
  ]}
 ]},
{"title":{"text":"Patellofemoral","orient":"left","align":"center","anchor":"middle","fontSize":17,"offset":4},
 "columns":3,"spacing":{"row":31,"column":62},"bounds":"flush",
 "concat":[
  {"width":191,"height":80,
   "encoding":{"x":{"field":"x","type":"quantitative","scale":{"domain":[-0.8,50]},"axis":{"labels":false,"title":null,"values":[0,10,20,30,40,50]}},
     "y":{"field":"y","type":"quantitative","scale":{"domain":[20,60]},"axis":{"values":[20,30,40,50,60],"title":["Translations (mm)","Anterior"]}}},
   "layer":[
   {"data":{"name":"lines"},"transform":[{"filter":"datum.p=='pa'"}],"mark":{"type":"line","clip":true,"strokeJoin":"round"},
    "encoding":{"order":{"value":null},
     "color":{"field":"s","type":"nominal","title":null,"scale":{"domain":["Simulation","Uncertainty","MRI"],"range":["#e52420","#e52420","#111111"]}},
     "strokeDash":{"field":"s","type":"nominal","title":null,"scale":{"domain":["Simulation","Uncertainty","MRI"],"range":[[1,0],[2.5,2],[1,0]]}},
     "strokeWidth":{"field":"s","type":"nominal","title":null,"scale":{"domain":["Simulation","Uncertainty","MRI"],"range":[3,1.6,1.2]}}}}
  ]},
  {"width":191,"height":80,
   "encoding":{"x":{"field":"x","type":"quantitative","scale":{"domain":[-0.8,50]},"axis":{"labels":false,"title":null,"values":[0,10,20,30,40,50]}},
     "y":{"field":"y","type":"quantitative","scale":{"domain":[-30,10]},"axis":{"values":[-30,-20,-10,0,10],"title":"Superior"}}},
   "layer":[
   {"data":{"name":"lines"},"transform":[{"filter":"datum.p=='ps'"}],"mark":{"type":"line","clip":true,"strokeJoin":"round"},
    "encoding":{"order":{"value":null},
     "color":{"field":"s","type":"nominal","title":null,"scale":{"domain":["Simulation","Uncertainty","MRI"],"range":["#e52420","#e52420","#111111"]}},
     "strokeDash":{"field":"s","type":"nominal","title":null,"scale":{"domain":["Simulation","Uncertainty","MRI"],"range":[[1,0],[2.5,2],[1,0]]}},
     "strokeWidth":{"field":"s","type":"nominal","title":null,"scale":{"domain":["Simulation","Uncertainty","MRI"],"range":[3,1.6,1.2]}}}}
  ]},
  {"width":191,"height":80,
   "encoding":{"x":{"field":"x","type":"quantitative","scale":{"domain":[-0.8,50]},"axis":{"labels":false,"title":null,"values":[0,10,20,30,40,50]}},
     "y":{"field":"y","type":"quantitative","scale":{"domain":[-20,20]},"axis":{"values":[-20,-10,0,10,20],"title":"Lateral"}}},
   "layer":[
   {"data":{"name":"lines"},"transform":[{"filter":"datum.p=='pl'"}],"mark":{"type":"line","clip":true,"strokeJoin":"round"},
    "encoding":{"order":{"value":null},
     "color":{"field":"s","type":"nominal","title":null,"scale":{"domain":["Simulation","Uncertainty","MRI"],"range":["#e52420","#e52420","#111111"]}},
     "strokeDash":{"field":"s","type":"nominal","title":null,"scale":{"domain":["Simulation","Uncertainty","MRI"],"range":[[1,0],[2.5,2],[1,0]]}},
     "strokeWidth":{"field":"s","type":"nominal","title":null,"scale":{"domain":["Simulation","Uncertainty","MRI"],"range":[3,1.6,1.2]}}}}
  ]},
  {"width":191,"height":80,
   "encoding":{"x":{"field":"x","type":"quantitative","scale":{"domain":[-0.8,50]},"axis":{"title":null,"values":[0,10,20,30,40,50]}},
     "y":{"field":"y","type":"quantitative","scale":{"domain":[0,60]},"axis":{"values":[0,20,40,60],"title":["Rotations (°)","Flexion"]}}},
   "layer":[
   {"data":{"name":"lines"},"transform":[{"filter":"datum.p=='pf'"}],"mark":{"type":"line","clip":true,"strokeJoin":"round"},
    "encoding":{"order":{"value":null},
     "color":{"field":"s","type":"nominal","title":null,"scale":{"domain":["Simulation","Uncertainty","MRI"],"range":["#e52420","#e52420","#111111"]}},
     "strokeDash":{"field":"s","type":"nominal","title":null,"scale":{"domain":["Simulation","Uncertainty","MRI"],"range":[[1,0],[2.5,2],[1,0]]}},
     "strokeWidth":{"field":"s","type":"nominal","title":null,"scale":{"domain":["Simulation","Uncertainty","MRI"],"range":[3,1.6,1.2]}}}}
  ]},
  {"width":191,"height":80,
   "encoding":{"x":{"field":"x","type":"quantitative","scale":{"domain":[-0.8,50]},"axis":{"title":"Knee Flexion Angle","titlePadding":6,"values":[0,10,20,30,40,50]}},
     "y":{"field":"y","type":"quantitative","scale":{"domain":[-7,10]},"axis":{"values":[-5,0,5,10],"title":"Lat. Rotation"}}},
   "layer":[
   {"data":{"name":"band"},"transform":[{"filter":"datum.p=='plr'"}],"mark":{"type":"area","color":"#fcd6c2","clip":true},"encoding":{"y2":{"field":"hi"}}},
   {"data":{"name":"lines"},"transform":[{"filter":"datum.p=='plr'"}],"mark":{"type":"line","clip":true,"strokeJoin":"round"},
    "encoding":{"order":{"value":null},
     "color":{"field":"s","type":"nominal","title":null,"scale":{"domain":["Simulation","Uncertainty","MRI"],"range":["#e52420","#e52420","#111111"]}},
     "strokeDash":{"field":"s","type":"nominal","title":null,"scale":{"domain":["Simulation","Uncertainty","MRI"],"range":[[1,0],[2.5,2],[1,0]]}},
     "strokeWidth":{"field":"s","type":"nominal","title":null,"scale":{"domain":["Simulation","Uncertainty","MRI"],"range":[3,1.6,1.2]}}}}
  ]},
  {"width":191,"height":80,
   "encoding":{"x":{"field":"x","type":"quantitative","scale":{"domain":[-0.8,50]},"axis":{"title":null,"values":[0,10,20,30,40,50]}},
     "y":{"field":"y","type":"quantitative","scale":{"domain":[-7,10]},"axis":{"values":[-5,0,5,10],"title":"Med. Tilt"}}},
   "layer":[
   {"data":{"name":"band"},"transform":[{"filter":"datum.p=='pmt'"}],"mark":{"type":"area","color":"#fcd6c2","clip":true},"encoding":{"y2":{"field":"hi"}}},
   {"data":{"name":"lines"},"transform":[{"filter":"datum.p=='pmt'"}],"mark":{"type":"line","clip":true,"strokeJoin":"round"},
    "encoding":{"order":{"value":null},
     "color":{"field":"s","type":"nominal","title":null,"scale":{"domain":["Simulation","Uncertainty","MRI"],"range":["#e52420","#e52420","#111111"]}},
     "strokeDash":{"field":"s","type":"nominal","title":null,"scale":{"domain":["Simulation","Uncertainty","MRI"],"range":[[1,0],[2.5,2],[1,0]]}},
     "strokeWidth":{"field":"s","type":"nominal","title":null,"scale":{"domain":["Simulation","Uncertainty","MRI"],"range":[3,1.6,1.2]}}}}
  ]}
 ]}
],
"spacing":1
}
